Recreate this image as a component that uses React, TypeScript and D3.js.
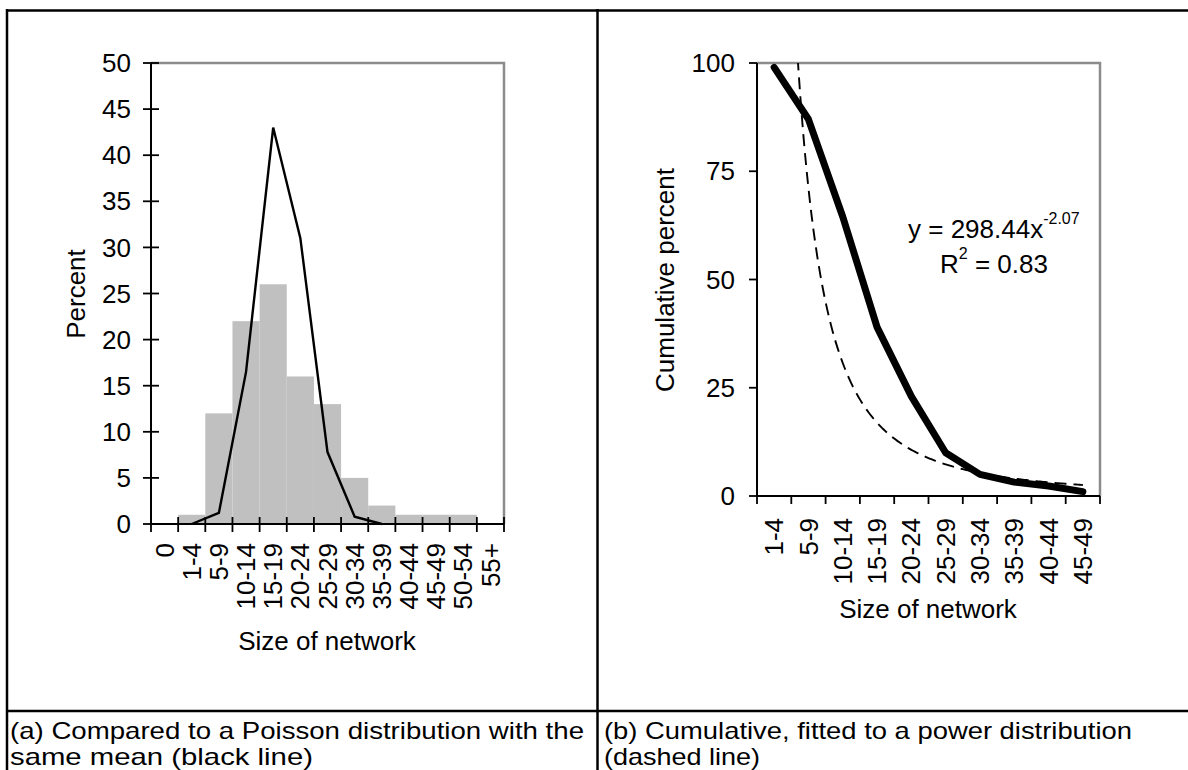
import React, { useEffect, useRef } from 'react';
import * as d3 from 'd3';

// (a) share of respondents by size of network, with Poisson line
const histCategories = ['0', '1-4', '5-9', '10-14', '15-19', '20-24', '25-29', '30-34', '35-39', '40-44', '45-49', '50-54', '55+'];
const histPercent = [0, 1, 12, 22, 26, 16, 13, 5, 2, 1, 1, 1, 0];
const poissonCategories = ['1-4', '5-9', '10-14', '15-19', '20-24', '25-29', '30-34', '35-39'];
const poissonPercent = [0, 1.2, 16.5, 43, 31, 7.8, 0.8, 0];
const histTicks = [0, 5, 10, 15, 20, 25, 30, 35, 40, 45, 50];

// (b) cumulative percent with power trendline
const cumCategories = ['1-4', '5-9', '10-14', '15-19', '20-24', '25-29', '30-34', '35-39', '40-44', '45-49'];
const cumPercent = [99, 87, 64.5, 39, 23, 10, 5, 3.2, 2.3, 1];
const cumTicks = [0, 25, 50, 75, 100];
const fitCoef = 298.44;
const fitExp = -2.07;
const fitR2 = '0.83';

const captionA = ['(a) Compared to a Poisson distribution with the', 'same mean (black line)'];
const captionB = ['(b) Cumulative, fitted to a power distribution', '(dashed line)'];

const FONT = "'Liberation Sans', Arial, sans-serif";
const FS = '26px';

export default function App() {
  const svgRef = useRef<SVGSVGElement | null>(null);

  useEffect(() => {
    if (!svgRef.current) return;
    const svg = d3.select(svgRef.current);
    svg.selectAll('*').remove();
    svg.style('font-family', FONT);

    // table frame
    const frame = svg.append('g').attr('stroke', '#000').attr('stroke-width', 2.5);
    frame.append('line').attr('x1', 6).attr('x2', 1188).attr('y1', 10.5).attr('y2', 10.5);
    frame.append('line').attr('x1', 7).attr('x2', 7).attr('y1', 9).attr('y2', 770);
    frame.append('line').attr('x1', 597.5).attr('x2', 597.5).attr('y1', 9).attr('y2', 770);
    frame.append('line').attr('x1', 6).attr('x2', 1188).attr('y1', 711).attr('y2', 711);

    // captions
    const cap = svg.append('g').style('font-size', '24px').attr('fill', '#000');
    const capLines: [string, number, number, number][] = [
      [captionA[0], 10, 739, 574],
      [captionA[1], 10, 765, 303],
      [captionB[0], 604, 739, 528],
      [captionB[1], 604, 765, 156],
    ];
    capLines.forEach(([t, x, y, w]) => {
      cap.append('text').attr('x', x).attr('y', y)
        .attr('textLength', w).attr('lengthAdjust', 'spacingAndGlyphs')
        .text(t);
    });

    // ---------- left chart ----------
    const gL = svg.append('g');
    const xL = d3.scaleBand<string>().domain(histCategories).range([151, 504]).padding(0);
    const yL = d3.scaleLinear().domain([0, 50]).range([524, 63]);
    const bwL = xL.bandwidth();

    gL.append('g').selectAll('rect')
      .data(histCategories.map((c, i) => ({ c, v: histPercent[i] })).filter(d => d.v > 0))
      .join('rect')
      .attr('x', d => xL(d.c)!)
      .attr('width', bwL)
      .attr('y', d => yL(d.v))
      .attr('height', d => yL(0) - yL(d.v))
      .attr('fill', '#c0c0c0');

    gL.append('path')
      .attr('d', `M151,${yL(50)}H504V${yL(0)}`)
      .attr('fill', 'none').attr('stroke', '#8c8c8c').attr('stroke-width', 2.5);

    const lineL = d3.line<number>()
      .x((_, i) => xL(poissonCategories[i])! + bwL / 2)
      .y(d => yL(d));
    gL.append('path').datum(poissonPercent)
      .attr('d', lineL)
      .attr('fill', 'none').attr('stroke', '#000').attr('stroke-width', 2.4);

    gL.append('line').attr('x1', 151).attr('x2', 151).attr('y1', yL(50)).attr('y2', yL(0))
      .attr('stroke', '#000').attr('stroke-width', 2);
    gL.append('line').attr('x1', 151).attr('x2', 504).attr('y1', yL(0)).attr('y2', yL(0))
      .attr('stroke', '#000').attr('stroke-width', 2);

    histTicks.forEach(t => {
      gL.append('line').attr('x1', 143).attr('x2', 159).attr('y1', yL(t)).attr('y2', yL(t))
        .attr('stroke', '#000').attr('stroke-width', 1.8);
      gL.append('text').attr('x', 131).attr('y', yL(t)).attr('dy', '0.35em')
        .attr('text-anchor', 'end').style('font-size', FS).text(t);
    });
    d3.range(histCategories.length + 1).forEach(i => {
      const x = 151 + i * bwL;
      gL.append('line').attr('x1', x).attr('x2', x).attr('y1', yL(0) - 7).attr('y2', yL(0) + 8)
        .attr('stroke', '#000').attr('stroke-width', 1.8);
    });
    histCategories.forEach(c => {
      gL.append('text')
        .attr('transform', `translate(${xL(c)! + bwL / 2},543) rotate(-90)`)
        .attr('dy', '0.35em').attr('text-anchor', 'end').style('font-size', FS).text(c);
    });
    gL.append('text').attr('transform', 'translate(85,294) rotate(-90)')
      .attr('text-anchor', 'middle').style('font-size', FS).text('Percent');
    gL.append('text').attr('x', 327).attr('y', 650)
      .attr('text-anchor', 'middle').style('font-size', FS).text('Size of network');

    // ---------- right chart ----------
    const gR = svg.append('g');
    const xR = d3.scaleBand<string>().domain(cumCategories).range([757, 1100]).padding(0);
    const xFit = d3.scaleLinear().domain([0.5, cumCategories.length + 0.5]).range([757, 1100]);
    const yR = d3.scaleLinear().domain([0, 100]).range([496, 63]);
    const bwR = xR.bandwidth();

    gR.append('path')
      .attr('d', `M757,${yR(100)}H1100V${yR(0)}`)
      .attr('fill', 'none').attr('stroke', '#8c8c8c').attr('stroke-width', 2.5);

    gR.append('clipPath').attr('id', 'plotR')
      .append('rect').attr('x', 757).attr('y', yR(100)).attr('width', 343).attr('height', yR(0) - yR(100));

    const lineR = d3.line<number>()
      .x((_, i) => xR(cumCategories[i])! + bwR / 2)
      .y(d => yR(d));
    gR.append('path').datum(cumPercent)
      .attr('d', lineR)
      .attr('fill', 'none').attr('stroke', '#000').attr('stroke-width', 7)
      .attr('stroke-linecap', 'round').attr('stroke-linejoin', 'round');

    // trendline from the fitted equation shown on the chart
    const fitXs = d3.range(1, cumCategories.length + 0.001, 0.05);
    const fitLine = d3.line<number>()
      .x(k => xFit(k))
      .y(k => yR(fitCoef * Math.pow(k, fitExp)));
    gR.append('path').datum(fitXs)
      .attr('d', fitLine)
      .attr('clip-path', 'url(#plotR)')
      .attr('fill', 'none').attr('stroke', '#000').attr('stroke-width', 1.9)
      .attr('stroke-dasharray', '12,7');

    gR.append('line').attr('x1', 757).attr('x2', 757).attr('y1', yR(100)).attr('y2', yR(0))
      .attr('stroke', '#000').attr('stroke-width', 2);
    gR.append('line').attr('x1', 757).attr('x2', 1100).attr('y1', yR(0)).attr('y2', yR(0))
      .attr('stroke', '#000').attr('stroke-width', 2);

    cumTicks.forEach(t => {
      gR.append('line').attr('x1', 749).attr('x2', 757).attr('y1', yR(t)).attr('y2', yR(t))
        .attr('stroke', '#000').attr('stroke-width', 1.8);
      gR.append('text').attr('x', 735).attr('y', yR(t)).attr('dy', '0.35em')
        .attr('text-anchor', 'end').style('font-size', FS).text(t);
    });
    d3.range(cumCategories.length + 1).forEach(i => {
      const x = 757 + i * bwR;
      gR.append('line').attr('x1', x).attr('x2', x).attr('y1', yR(0)).attr('y2', yR(0) + 8)
        .attr('stroke', '#000').attr('stroke-width', 1.8);
    });
    cumCategories.forEach(c => {
      gR.append('text')
        .attr('transform', `translate(${xR(c)! + bwR / 2},518) rotate(-90)`)
        .attr('dy', '0.35em').attr('text-anchor', 'end').style('font-size', FS).text(c);
    });
    gR.append('text').attr('transform', 'translate(674,280) rotate(-90)')
      .attr('text-anchor', 'middle').style('font-size', FS).text('Cumulative percent');
    gR.append('text').attr('x', 928).attr('y', 618)
      .attr('text-anchor', 'middle').style('font-size', FS).text('Size of network');

    const eq = gR.append('text').attr('x', 908).attr('y', 238).style('font-size', FS);
    eq.append('tspan').text(`y = ${fitCoef}x`);
    eq.append('tspan').attr('dy', -14).style('font-size', '16px').text(`${fitExp}`);
    const r2 = gR.append('text').attr('x', 940).attr('y', 273).style('font-size', FS);
    r2.append('tspan').text('R');
    r2.append('tspan').attr('dy', -14).style('font-size', '16px').text('2');
    r2.append('tspan').attr('dy', 14).text(` = ${fitR2}`);
  }, []);

  return (
    <svg
      ref={svgRef}
      width={1188}
      height={770}
      style={{ position: 'absolute', left: 0, top: 0, display: 'block', background: '#fff' }}
    />
  );
}
